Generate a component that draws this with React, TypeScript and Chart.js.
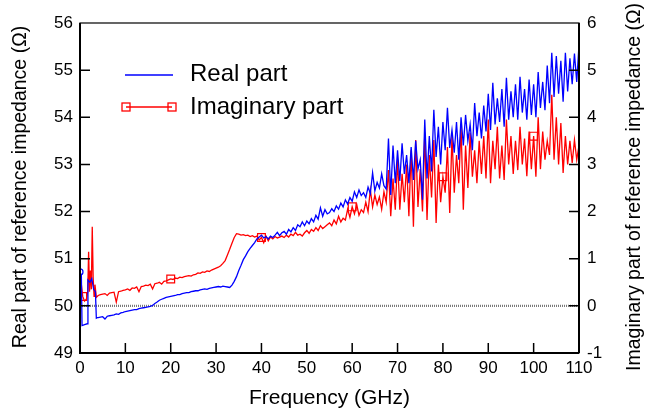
import React, { useEffect, useRef } from 'react';
import { Chart, registerables } from 'chart.js';

Chart.register(...registerables);

const FONT = '"Liberation Sans", Arial, Helvetica, sans-serif';

// Axis ticks
const xTicks = [0, 10, 20, 30, 40, 50, 60, 70, 80, 90, 100, 110];
const realTicks = [49, 50, 51, 52, 53, 54, 55, 56];
const imagTicks = [-1, 0, 1, 2, 3, 4, 5, 6];

// Real part (Ω) — low-frequency detail (GHz / Ω)
const realEarlyFreq = [0, 0.3, 0.45, 1.0, 1.6, 1.75, 2.2, 2.6, 3.0, 3.4, 3.6, 3.8];
const realEarly = [50.72, 50.65, 49.58, 49.6, 49.62, 50.55, 50.5, 50.58, 50.35, 50.3, 49.74, 49.75];

// Imaginary part (Ω) — low-frequency detail
const imagEarlyFreq = [0, 0.3, 0.6, 1.0, 1.4, 1.7, 1.9, 2.1, 2.3, 2.5, 2.7, 2.9, 3.1, 3.3, 3.6];
const imagEarly = [0.62, 0.45, 0.2, 0.1, 0.14, 0.3, 1.15, 0.3, 0.75, 0.35, 1.68, 0.6, 0.2, 0.45, 0.18];

// Sampled grid from 4 GHz to 110 GHz, every 0.5 GHz
const GRID_START = 4;
const GRID_STEP = 0.5;

const realGrid = [
  // 4.0 - 9.5
  49.75, 49.76, 49.77, 49.72, 49.78, 49.79, 49.80, 49.81, 49.83, 49.82, 49.85, 49.86,
  // 10 - 19.5
  49.88, 49.89, 49.90, 49.91, 49.92, 49.92, 49.94, 49.95, 49.96, 49.97,
  49.98, 49.99, 50.01, 50.05, 50.08, 50.12, 50.14, 50.16, 50.18, 50.19,
  // 20 - 29.5
  50.20, 50.21, 50.22, 50.24, 50.24, 50.26, 50.27, 50.28, 50.28, 50.30,
  50.31, 50.32, 50.32, 50.34, 50.35, 50.36, 50.35, 50.37, 50.38, 50.39,
  // 30 - 39.5
  50.40, 50.41, 50.40, 50.42, 50.41, 50.40, 50.39, 50.44, 50.52, 50.62,
  50.75, 50.86, 50.98, 51.06, 51.15, 51.22, 51.28, 51.34, 51.42, 51.46,
  // 40 - 49.5
  51.50, 51.44, 51.47, 51.42, 51.48, 51.45, 51.50, 51.56, 51.49, 51.55,
  51.58, 51.52, 51.62, 51.57, 51.66, 51.60, 51.72, 51.68, 51.78, 51.70,
  // 50 - 59.5
  51.80, 51.74, 51.85, 51.78, 51.92, 51.84, 52.08, 51.90, 52.04, 51.95,
  51.98, 52.06, 52.00, 52.12, 52.05, 52.18, 52.10, 52.25, 52.16, 52.30,
  // 60 - 69.5
  52.22, 52.42, 52.30, 52.46, 52.34, 52.40, 52.30, 52.52, 52.38, 52.82,
  52.44, 52.62, 52.50, 52.80, 52.55, 52.48, 53.55, 52.35, 53.40, 52.60,
  // 70 - 79.5
  53.30, 52.65, 53.45, 52.80, 53.20, 52.60, 53.37, 52.67, 53.50, 52.90,
  53.10, 52.25, 53.95, 52.70, 53.60, 52.85, 54.16, 53.16, 53.80, 53.00,
  // 80 - 89.5
  53.90, 53.30, 54.20, 53.35, 53.73, 53.25, 53.90, 53.10, 54.00, 53.40,
  54.05, 53.50, 53.85, 53.30, 54.30, 53.60, 54.10, 53.55, 54.25, 53.70,
  // 90 - 99.5
  54.50, 53.73, 54.73, 53.85, 54.40, 53.90, 54.60, 53.80, 54.84, 53.95,
  54.55, 54.00, 54.70, 53.95, 54.86, 54.10, 54.60, 53.95, 54.80, 54.05,
  // 100 - 109.5
  54.70, 54.00, 54.96, 54.20, 54.75, 54.15, 55.10, 54.30, 55.37, 54.43,
  55.30, 54.50, 55.20, 54.33, 55.37, 54.55, 55.25, 54.70, 55.35, 54.75,
  // 110
  55.54,
];

const imagGrid = [
  // 4.0 - 9.5
  0.22, 0.24, 0.25, 0.26, 0.22, 0.27, 0.28, 0.29, 0.08, 0.30, 0.31, 0.33,
  // 10 - 19.5
  0.34, 0.36, 0.33, 0.38, 0.37, 0.40, 0.30, 0.41, 0.42, 0.44,
  0.43, 0.46, 0.36, 0.47, 0.48, 0.50, 0.46, 0.52, 0.53, 0.55,
  // 20 - 29.5
  0.57, 0.56, 0.59, 0.58, 0.61, 0.60, 0.62, 0.63, 0.64, 0.63,
  0.66, 0.67, 0.70, 0.69, 0.72, 0.71, 0.74, 0.73, 0.76, 0.78,
  // 30 - 39.5
  0.80, 0.82, 0.85, 0.90, 0.96, 1.08, 1.20, 1.33, 1.45, 1.53,
  1.52, 1.50, 1.51, 1.49, 1.50, 1.47, 1.49, 1.46, 1.48, 1.40,
  // 40 - 49.5
  1.45, 1.34, 1.48, 1.38, 1.46, 1.42, 1.47, 1.44, 1.46, 1.48,
  1.45, 1.50, 1.46, 1.52, 1.49, 1.56, 1.50, 1.52, 1.48, 1.55,
  // 50 - 59.5
  1.60, 1.54, 1.62, 1.58, 1.66, 1.60, 1.70, 1.64, 1.68, 1.72,
  1.76, 1.70, 1.82, 1.74, 1.90, 1.78, 1.86, 1.82, 2.05, 1.88,
  // 60 - 69.5
  2.10, 1.95, 2.15, 1.92, 2.04, 1.98, 2.20, 2.00, 2.46, 2.10,
  2.35, 2.15, 2.31, 2.05, 2.42, 2.20, 2.88, 1.90, 2.70, 2.04,
  // 70 - 79.5
  3.10, 2.04, 2.80, 2.20, 3.00, 1.90, 3.30, 1.68, 3.52, 2.10,
  2.90, 2.00, 3.67, 1.82, 3.20, 2.30, 3.52, 1.76, 3.00, 2.20,
  // 80 - 89.5
  2.74, 2.40, 3.37, 1.97, 3.60, 2.40, 3.20, 2.60, 3.80, 2.04,
  3.40, 2.50, 3.67, 2.74, 3.30, 2.60, 3.50, 2.80, 3.60, 2.70,
  // 90 - 99.5
  3.95, 2.60, 3.50, 2.90, 3.80, 2.70, 3.40, 2.67, 3.95, 3.00,
  3.60, 2.80, 3.50, 2.88, 3.80, 3.00, 3.55, 2.75, 3.70, 2.90,
  // 100 - 109.5
  3.60, 2.74, 4.00, 2.90, 3.70, 3.10, 3.50, 3.20, 4.48, 3.10,
  4.00, 3.00, 3.88, 2.82, 3.60, 3.00, 3.50, 3.03, 3.52, 3.10,
  // 110
  3.40,
];

// Frequencies where the series carry markers
const realMarkerFreqs = [0];
const imagMarkerFreqs = [0.6, 20, 40, 60, 80, 100];

const REAL_LABEL = 'Real part';
const IMAG_LABEL = 'Imaginary part';
const X_TITLE = 'Frequency (GHz)';
const Y_TITLE = 'Real part of reference impedance (\u03A9)';
const Y1_TITLE = 'Imaginary part of reference impedance (\u03A9)';

function buildPoints(earlyF: number[], earlyV: number[], grid: number[]) {
  const pts = earlyF.map((f, i) => ({ x: f, y: earlyV[i] }));
  grid.forEach((v, i) => pts.push({ x: GRID_START + i * GRID_STEP, y: v }));
  return pts;
}

const decorPlugin = {
  id: 'decor',
  beforeDatasetsDraw(chart: any) {
    const { ctx, chartArea: a, scales } = chart;
    const y0 = scales.y1.getPixelForValue(0);
    ctx.save();
    ctx.strokeStyle = '#777';
    ctx.lineWidth = 2.2;
    ctx.setLineDash([1, 1]);
    ctx.beginPath();
    ctx.moveTo(a.left, y0);
    ctx.lineTo(a.right, y0);
    ctx.stroke();
    ctx.restore();
  },
  afterDatasetsDraw(chart: any) {
    const { ctx, chartArea: a, scales } = chart;
    ctx.save();
    // frame
    ctx.strokeStyle = '#000';
    ctx.lineWidth = 1.2;
    ctx.strokeRect(a.left, a.top, a.right - a.left, a.bottom - a.top);
    ctx.lineWidth = 2;
    ctx.beginPath();
    ctx.moveTo(a.left, a.top);
    ctx.lineTo(a.left, a.bottom);
    ctx.lineTo(a.right, a.bottom);
    ctx.moveTo(a.right, a.top);
    ctx.lineTo(a.right, a.bottom);
    ctx.stroke();
    // inward ticks
    ctx.lineWidth = 1.5;
    ctx.beginPath();
    realTicks.slice(1, -1).forEach((v) => {
      const y = scales.y.getPixelForValue(v);
      ctx.moveTo(a.left, y);
      ctx.lineTo(a.left + 10, y);
    });
    imagTicks.slice(1, -1).forEach((v) => {
      const y = scales.y1.getPixelForValue(v);
      ctx.moveTo(a.right - 10, y);
      ctx.lineTo(a.right, y);
    });
    xTicks.slice(1, -1).forEach((v) => {
      const x = scales.x.getPixelForValue(v);
      ctx.moveTo(x, a.bottom);
      ctx.lineTo(x, a.bottom - 10);
    });
    ctx.stroke();

    // legend
    ctx.lineWidth = 1.3;
    ctx.strokeStyle = '#0000ff';
    ctx.beginPath();
    ctx.moveTo(125, 75);
    ctx.lineTo(173, 75);
    ctx.stroke();
    ctx.strokeStyle = '#ff0000';
    ctx.beginPath();
    ctx.moveTo(126, 107);
    ctx.lineTo(172, 107);
    ctx.stroke();
    ctx.strokeRect(122, 103, 8, 8);
    ctx.strokeRect(168, 103, 8, 8);
    ctx.fillStyle = '#000';
    ctx.font = `24px ${FONT}`;
    ctx.textAlign = 'left';
    ctx.textBaseline = 'alphabetic';
    ctx.fillText(REAL_LABEL, 190, 81);
    ctx.fillText(IMAG_LABEL, 190, 114);

    // titles
    ctx.textAlign = 'center';
    ctx.textBaseline = 'middle';
    ctx.font = `21px ${FONT}`;
    ctx.fillText(X_TITLE, (a.left + a.right) / 2, 398);
    ctx.font = `19.5px ${FONT}`;
    ctx.save();
    ctx.translate(21, 187);
    ctx.rotate(-Math.PI / 2);
    ctx.fillText(Y_TITLE, 0, 0);
    ctx.restore();
    ctx.save();
    ctx.translate(635, 187);
    ctx.rotate(-Math.PI / 2);
    ctx.fillText(Y1_TITLE, 0, 0);
    ctx.restore();
    ctx.restore();
  },
};

export default function App() {
  const ref = useRef<HTMLCanvasElement>(null);
  useEffect(() => {
    document.body.style.margin = '0';
    const realPts = buildPoints(realEarlyFreq, realEarly, realGrid);
    const imagPts = buildPoints(imagEarlyFreq, imagEarly, imagGrid);
    const tickFont = { family: FONT, size: 17 };
    const chart = new Chart(ref.current as HTMLCanvasElement, {
      type: 'line',
      data: {
        datasets: [
          {
            label: REAL_LABEL,
            data: realPts,
            yAxisID: 'y',
            borderColor: '#0000ff',
            borderWidth: 1.3,
            pointStyle: 'circle',
            pointBorderColor: '#0000ff',
            pointBackgroundColor: 'rgba(0,0,0,0)',
            pointBorderWidth: 1.2,
            pointRadius: (c: any) =>
              c.raw && realMarkerFreqs.includes(c.raw.x) ? 3 : 0,
            tension: 0,
          },
          {
            label: IMAG_LABEL,
            data: imagPts,
            yAxisID: 'y1',
            borderColor: '#ff0000',
            borderWidth: 1.3,
            pointStyle: 'rect',
            pointBorderColor: '#ff0000',
            pointBackgroundColor: 'rgba(0,0,0,0)',
            pointBorderWidth: 1.2,
            pointRadius: (c: any) =>
              c.raw && imagMarkerFreqs.includes(c.raw.x) ? 5.5 : 0,
            tension: 0,
          },
        ],
      },
      options: {
        responsive: false,
        animation: false,
        layout: { padding: { top: 23, left: 0, right: 0, bottom: 0 } },
        plugins: { legend: { display: false }, tooltip: { enabled: false } },
        scales: {
          x: {
            type: 'linear',
            min: 0,
            max: 110,
            afterBuildTicks: (s: any) => {
              s.ticks = xTicks.map((v) => ({ value: v }));
            },
            afterFit: (s: any) => {
              s.height = 57;
            },
            ticks: { font: tickFont, color: '#000', padding: 5, maxRotation: 0, autoSkip: false },
            grid: { display: false, drawTicks: false },
            border: { display: false },
          },
          y: {
            type: 'linear',
            position: 'left',
            min: 49,
            max: 56,
            afterBuildTicks: (s: any) => {
              s.ticks = realTicks.map((v) => ({ value: v }));
            },
            afterFit: (s: any) => {
              s.width = 80;
            },
            ticks: { font: tickFont, color: '#000', padding: 7 },
            grid: { display: false, drawTicks: false },
            border: { display: false },
          },
          y1: {
            type: 'linear',
            position: 'right',
            min: -1,
            max: 6,
            afterBuildTicks: (s: any) => {
              s.ticks = imagTicks.map((v) => ({ value: v }));
            },
            afterFit: (s: any) => {
              s.width = 68;
            },
            ticks: { font: tickFont, color: '#000', padding: 8 },
            grid: { display: false, drawTicks: false },
            border: { display: false },
          },
        },
      },
      plugins: [decorPlugin],
    } as any);
    return () => chart.destroy();
  }, []);
  return (
    <div style={{ width: 647, height: 410 }}>
      <canvas ref={ref} width={647} height={410} style={{ display: 'block' }} />
    </div>
  );
}
